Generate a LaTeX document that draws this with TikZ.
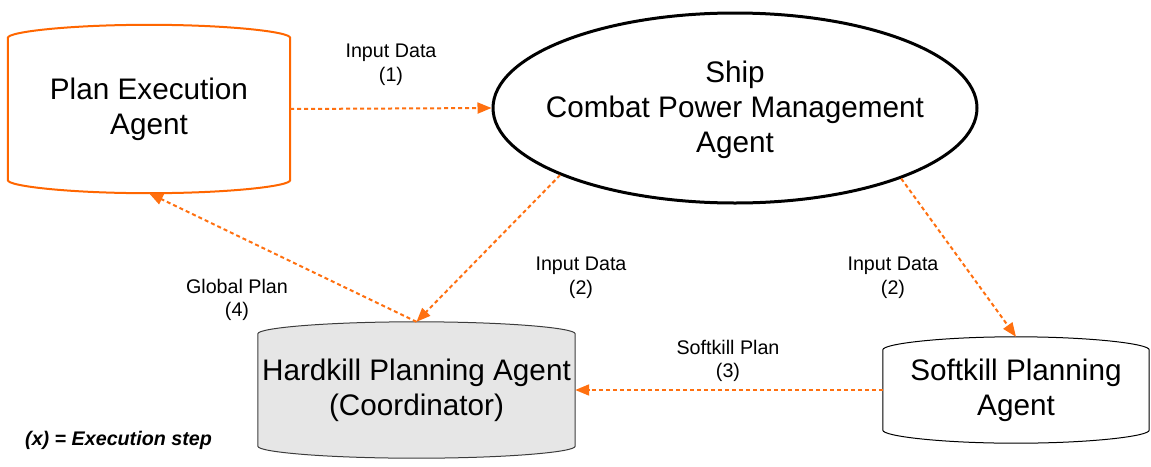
\documentclass[tikz,border=0pt]{standalone}
\usepackage{fontspec}
\setmainfont{Liberation Sans}
\usetikzlibrary{arrows.meta,shapes.geometric,calc,backgrounds}
\definecolor{orng}{RGB}{255,102,0}
\definecolor{flowc}{RGB}{255,112,16}
\definecolor{hkfill}{RGB}{230,230,230}
\definecolor{hkline}{RGB}{60,60,60}

\newcommand{\barrelpath}[3]{%
\draw[#2] let \p1=(#1.south west), \p2=(#1.north east) in
 (\x1,\y2-#3) .. controls (\x1,\y2-#3+6pt) and (0.78*\x1+0.22*\x2,\y2) .. (0.5*\x1+0.5*\x2,\y2)
 .. controls (0.22*\x1+0.78*\x2,\y2) and (\x2,\y2-#3+6pt) .. (\x2,\y2-#3)
 -- (\x2,\y1+#3) .. controls (\x2,\y1+#3-6pt) and (0.22*\x1+0.78*\x2,\y1) .. (0.5*\x1+0.5*\x2,\y1)
 .. controls (0.78*\x1+0.22*\x2,\y1) and (\x1,\y1+#3-6pt) .. (\x1,\y1+#3) -- cycle;}

\begin{document}
\begin{tikzpicture}[x=1pt,y=-1pt,
  bigtext/.style={align=center, inner sep=0pt, font=\fontsize{29.7}{35}\selectfont},
  boxnode/.style={bigtext, rectangle, minimum width=#1},
  lbl/.style={align=center, inner sep=0pt, font=\fontsize{19.7}{23.5}\selectfont},
  flow/.style={draw=flowc, line width=2pt, dash pattern=on 4pt off 3pt,
    -{Triangle[length=14pt,width=11pt,fill=flowc]}},
  peline/.style={draw=orng, line width=2pt},
  hkline/.style={draw=hkline, fill=hkfill, line width=1pt},
  skline/.style={draw=black, fill=white, line width=1pt}
]
\useasboundingbox (0,0) rectangle (1151,466);

\node[boxnode=282pt, minimum height=168pt] (pe) at (149,109) {Plan Execution\\Agent};
\node[boxnode=317pt, minimum height=136pt] (hk) at (416.5,390) {Hardkill Planning Agent\\(Coordinator)};
\node[boxnode=266pt, minimum height=106pt] (sk) at (1016,390) {Softkill Planning\\Agent};
\node[ellipse, draw=black, line width=3pt, minimum width=484pt, minimum height=190pt, inner sep=0pt] (cpm) at (735,108) {};
\node[bigtext] (cpmt) at (735,110) {Ship\\Combat Power Management\\Agent};

\begin{scope}[on background layer]
\barrelpath{pe}{peline}{13pt}
\barrelpath{hk}{hkline}{12pt}
\barrelpath{sk}{skline}{13pt}
\end{scope}

\draw[flow] (pe.east) -- (cpm.west);
\draw[flow] (cpm.201.6) -- (hk.north);
\draw[flow] (hk.north) -- (pe.south);
\draw[flow] (cpm.337.9) -- (sk.north);
\draw[flow] (sk.west) -- (hk.east);

\node[lbl] (l1) at (391,65) {Input Data\\(1)};
\node[lbl] (l2) at (581,278) {Input Data\\(2)};
\node[lbl] (l3) at (893,278) {Input Data\\(2)};
\node[lbl] (l4) at (728,361) {Softkill Plan\\(3)};
\node[lbl] (l5) at (237,300) {Global Plan\\(4)};
\node[lbl, anchor=west, font=\fontsize{19.7}{23.5}\selectfont\bfseries\itshape] (legend) at (25,440) {(x) = Execution step};
\end{tikzpicture}
\end{document}
